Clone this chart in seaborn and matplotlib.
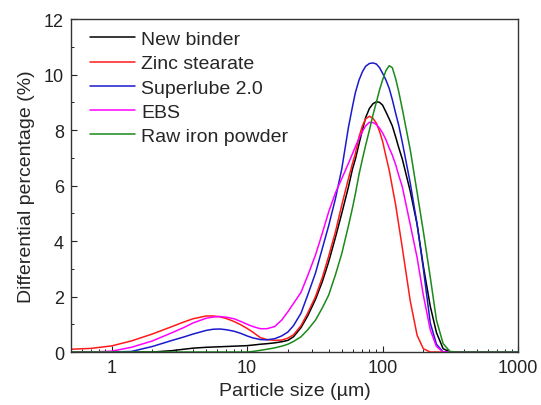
import matplotlib
matplotlib.use("Agg")
import matplotlib.pyplot as plt
import pandas as pd
import seaborn as sns

# particle size grid (um) and differential percentage
SIZES = [0.5, 0.7, 1.0, 1.4, 2.0,
         2.8, 3.4, 4.0, 5.0, 5.6,
         6.3, 7.1, 8.0, 9, 10,
         11, 12.5, 14, 16, 18,
         20, 22, 25, 28, 32,
         36, 40, 45, 50, 56,
         60, 63, 67, 71, 75,
         80, 85, 90, 95, 100,
         106, 112, 118, 125, 132,
         140, 160, 180, 200, 225,
         250, 280, 315, 355, 400,
         1000]

NEW_BINDER = [0, 0, 0, 0, 0,
              0.05, 0.1, 0.14, 0.17, 0.18,
              0.19, 0.2, 0.21, 0.22, 0.23,
              0.25, 0.28, 0.3, 0.33, 0.37,
              0.42, 0.55, 0.88, 1.3, 1.9,
              2.55, 3.25, 4.15, 5.0, 5.95,
              6.6, 6.95, 7.5, 8.0, 8.45,
              8.78, 8.95, 9.02, 9.0, 8.9,
              8.65, 8.4, 8.15, 7.75, 7.35,
              6.95, 5.8, 4.6, 3.1, 1.65,
              0.7, 0.12, 0, 0, 0,
              0]
ZINC_STEARATE = [0.10, 0.13, 0.22, 0.40, 0.65,
                 0.92, 1.08, 1.2, 1.30, 1.30,
                 1.27, 1.2, 1.10, 0.98, 0.85,
                 0.72, 0.52, 0.45, 0.42, 0.43,
                 0.5, 0.62, 0.95, 1.4, 2.0,
                 2.7, 3.45, 4.35, 5.3, 6.25,
                 6.8, 7.15, 7.75, 8.15, 8.4,
                 8.5, 8.42, 8.25, 7.95, 7.6,
                 7.05, 6.55, 5.95, 5.3, 4.55,
                 3.75, 1.85, 0.6, 0.12, 0,
                 0, 0, 0, 0, 0,
                 0]
SUPERLUBE = [0, 0, 0, 0.02, 0.2,
             0.42, 0.54, 0.65, 0.78, 0.82,
             0.83, 0.8, 0.75, 0.67, 0.58,
             0.51, 0.45, 0.44, 0.48, 0.58,
             0.72, 0.95, 1.4, 2.05, 2.85,
             3.75, 4.55, 5.55, 6.6, 8.1,
             8.85, 9.35, 9.8, 10.1, 10.3,
             10.4, 10.42, 10.38, 10.25, 10.05,
             9.8, 9.5, 9.1, 8.6, 8.15,
             7.55, 6.1, 4.6, 3.0, 1.05,
             0.28, 0, 0, 0, 0,
             0]
EBS = [0, 0, 0.03, 0.17, 0.40,
       0.70, 0.88, 1.05, 1.22, 1.26,
       1.28, 1.25, 1.2, 1.1, 1.0,
       0.92, 0.84, 0.84, 0.92, 1.15,
       1.45, 1.75, 2.15, 2.75, 3.5,
       4.3, 5.05, 5.75, 6.25, 6.8,
       7.15, 7.4, 7.7, 7.95, 8.15,
       8.28, 8.27, 8.2, 8.07, 7.9,
       7.65, 7.35, 7.1, 6.75, 6.35,
       5.95, 4.6, 3.4, 2.05, 0.8,
       0.2, 0, 0, 0, 0,
       0]
RAW_IRON = [0, 0, 0, 0, 0,
            0, 0, 0, 0, 0,
            0, 0, 0, 0, 0,
            0.02, 0.06, 0.1, 0.15, 0.21,
            0.28, 0.38, 0.55, 0.8, 1.15,
            1.6, 2.05, 2.8, 3.55, 4.55,
            5.2, 5.7, 6.4, 6.95, 7.45,
            8.0, 8.55, 9.0, 9.45, 9.8,
            10.15, 10.32, 10.25, 9.85, 9.36,
            8.75, 7.3, 5.75, 4.35, 2.7,
            1.15, 0.3, 0.02, 0, 0,
            0]

LABELS = ["New binder", "Zinc stearate", "Superlube 2.0", "EBS", "Raw iron powder"]
COLORS = ["#000000", "#ff1a1a", "#1a1acc", "#ff00ff", "#1a8a1a"]


def build_frame() -> pd.DataFrame:
    series = [NEW_BINDER, ZINC_STEARATE, SUPERLUBE, EBS, RAW_IRON]
    frames = []
    for label, values in zip(LABELS, series):
        frames.append(pd.DataFrame({"size": SIZES, "pct": values, "sample": label}))
    return pd.concat(frames, ignore_index=True)


def main() -> None:
    sns.set_style("ticks")
    plt.rcParams["font.family"] = ["Liberation Sans", "DejaVu Sans"]

    df = build_frame()

    fig = plt.figure(figsize=(5.41, 4.06), dpi=100)
    ax = fig.add_axes([0.131, 0.1305, 0.8265, 0.820])

    sns.lineplot(data=df, x="size", y="pct", hue="sample", hue_order=LABELS,
                 palette=COLORS, estimator=None, sort=False, linewidth=1.1, ax=ax)

    ax.set_xscale("log")
    ax.set_xlim(0.5, 1000)
    ax.set_ylim(0, 12)
    ax.set_xticks([1, 10, 100, 1000])
    ax.set_xticklabels(["1", "10", "100", "1000"])
    ax.set_yticks([0, 2, 4, 6, 8, 10, 12])
    ax.set_yticks([1, 3, 5, 7, 9, 11], minor=True)

    ax.tick_params(which="both", direction="in", labelsize=13, colors="#222222",
                   top=False, right=False, pad=5)
    ax.tick_params(which="major", length=4.5, width=0.8)
    ax.tick_params(which="minor", length=2.5, width=0.7)
    for side in ax.spines.values():
        side.set_color("#333333")
        side.set_linewidth(1.0)

    ax.set_xlabel("Particle size (\u00b5m)", fontsize=14, labelpad=4)
    ax.set_ylabel("Differential percentage (%)", fontsize=14, labelpad=6)

    sns.move_legend(ax, "upper left", bbox_to_anchor=(0.034, 0.977), frameon=False,
                    title=None, fontsize=14, handlelength=2.3, handletextpad=0.35,
                    labelspacing=0.34, borderpad=0.2, borderaxespad=0)

    fig.savefig("out.png", dpi=100)
    plt.close(fig)


if __name__ == "__main__":
    main()
